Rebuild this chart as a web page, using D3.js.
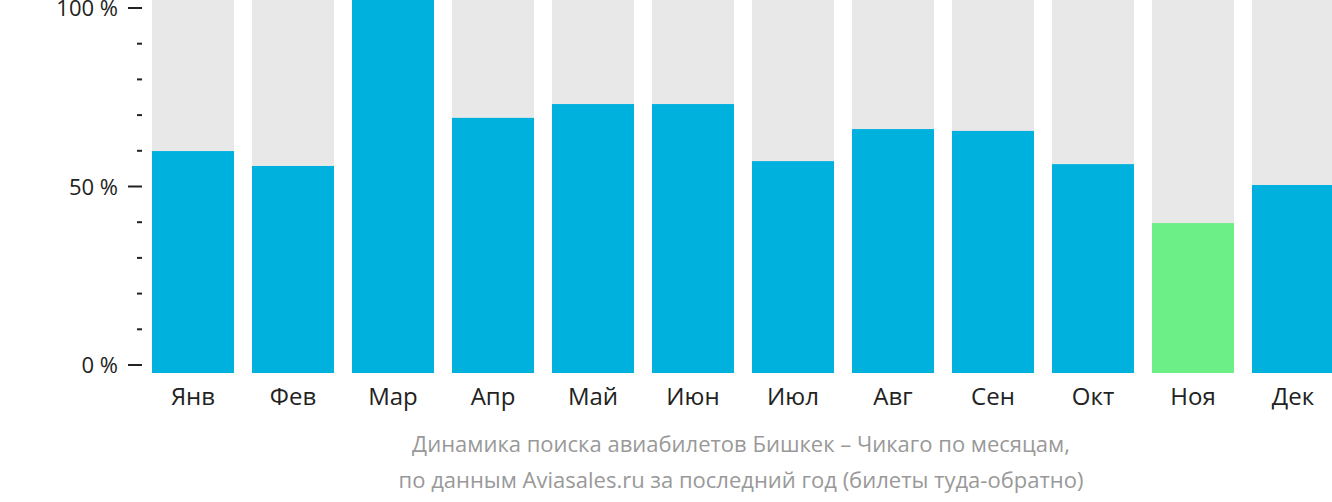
<!DOCTYPE html>
<html><head><meta charset="utf-8">
<script src="https://cdn.jsdelivr.net/npm/d3@7"></script>
<style>body{margin:0;background:#fff}svg{display:block;font-family:"Open Sans",sans-serif}</style>
</head><body><svg id="c" width="1332" height="502"></svg>
<script>
const months = ["Янв","Фев","Мар","Апр","Май","Июн","Июл","Авг","Сен","Окт","Ноя","Дек"];
const values = [59.5,55.5,100,68.4,72.1,72.1,56.8,65.4,64.9,56,40.2,50.4];
const highlight = ["Ноя"];
const tickValues = [0,50,100];
const tickLabels = ["0 %","50 %","100 %"];
const minorTicks = [10,20,30,40,60,70,80,90];
const caption = ["Динамика поиска авиабилетов Бишкек – Чикаго по месяцам,","по данным Aviasales.ru за последний год (билеты туда-обратно)"];

const svg = d3.select("#c");
const x = d3.scaleBand().domain(months).range([143,1343]).paddingInner(0.18).paddingOuter(0.09);
const yb = d3.scaleLinear().domain([0,100]).range([373,0]);
const ya = d3.scaleLinear().domain([0,100]).range([365,8]);

svg.selectAll("rect.bg").data(months).join("rect").attr("x",d=>x(d)).attr("width",x.bandwidth())
  .attr("y",yb(100)).attr("height",yb(0)-yb(100)).attr("fill","#e8e8e8");
svg.selectAll("rect.v").data(values).join("rect").attr("x",(d,i)=>x(months[i])).attr("width",x.bandwidth())
  .attr("y",d=>yb(d)).attr("height",d=>yb(0)-yb(d))
  .attr("fill",(d,i)=>highlight.includes(months[i])?"#6bef86":"#00b0dd");

svg.selectAll("line.mj").data(tickValues).join("line").attr("x1",128).attr("x2",142)
  .attr("y1",d=>ya(d)).attr("y2",d=>ya(d)).attr("stroke","#222").attr("stroke-width",2);
svg.selectAll("line.mn").data(minorTicks).join("line").attr("x1",137).attr("x2",142)
  .attr("y1",d=>ya(d)).attr("y2",d=>ya(d)).attr("stroke","#222").attr("stroke-width",2);
svg.selectAll("text.yl").data(tickValues).join("text").attr("x",118).attr("y",d=>ya(d)+8)
  .attr("text-anchor","end").attr("font-size",22).attr("fill","#222").text((d,i)=>tickLabels[i]);
svg.selectAll("text.xl").data(months).join("text").attr("x",d=>x(d)+x.bandwidth()/2).attr("y",405)
  .attr("text-anchor","middle").attr("font-size",24).attr("fill","#222").text(d=>d);
svg.selectAll("text.cap").data(caption).join("text").attr("x",741).attr("y",(d,i)=>452+i*36)
  .attr("text-anchor","middle").attr("font-size",22).attr("fill","#999").text(d=>d);
</script></body></html>
